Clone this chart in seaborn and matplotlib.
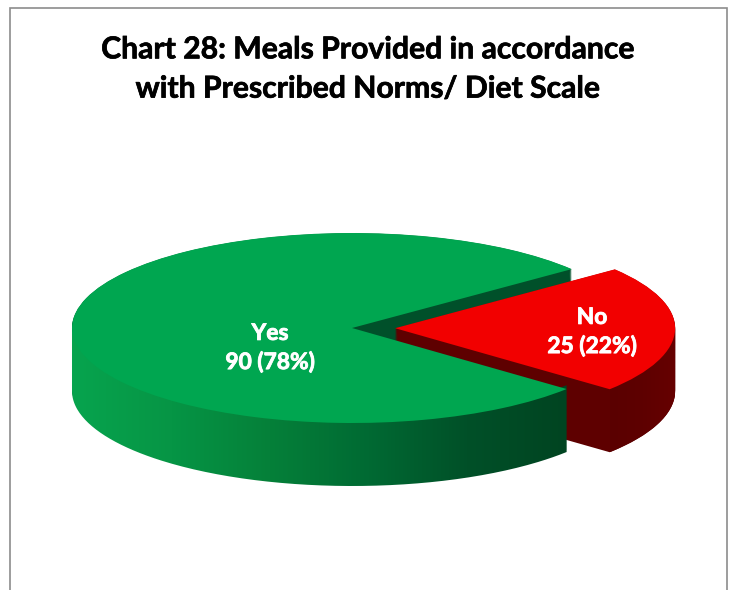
import numpy as np
import seaborn as sns
import matplotlib.pyplot as plt
import matplotlib.patheffects as pe
from matplotlib.path import Path
from matplotlib.patches import Rectangle

title = "Chart 28: Meals Provided in accordance\nwith Prescribed Norms/ Diet Scale"
categories = ["Yes", "No"]
counts = [90, 25]
shares = [78, 22]

top_colors = ["#00A650", "#F20000"]
wall_colors = ["#00502A", "#5E0000"]
green_side = ["#07A44E", "#069545", "#058039", "#006A33", "#005028", "#004421"]
red_side = ["#5A0000", "#5E0000", "#660000"]

sns.set_theme(style="white")
plt.rcParams["font.family"] = ["Lato", "DejaVu Sans"]

W, H = 730, 590
fig = plt.figure(figsize=(W / 100, H / 100), dpi=100, facecolor="white")
ax = fig.add_axes([0, 0, 1, 1])

# pie squashed into an ellipse later by the axis limits
cx, cy, rx, ry, depth_px = 352, 328, 280, 95, 63
depth = depth_px / ry
start = 38.3
explode = [0, 0.154]

# extruded body: flat layers, green first so the red wall sits over it
for d in np.arange(depth - 0.03, 0, -0.01):
    ax.pie(counts, startangle=start, explode=explode, center=(0, -d), colors=[wall_colors[0], "none"],
           wedgeprops=dict(linewidth=0))
for d in np.arange(depth, 0, -0.01):
    ax.pie(counts, startangle=start, explode=explode, center=(0, -d), colors=["none", wall_colors[1]],
           wedgeprops=dict(linewidth=0))

wedges, _ = ax.pie(counts, startangle=start, explode=explode, colors=top_colors,
                   wedgeprops=dict(linewidth=0))
wedges[0].set_zorder(6)
wedges[1].set_zorder(7)


def shade_side(wedge, colors, z):
    lo = max(wedge.theta1, 180)
    hi = min(wedge.theta2, 360)
    t = np.radians(np.linspace(lo, hi, 200))
    x = wedge.center[0] + wedge.r * np.cos(t)
    y = wedge.center[1] + wedge.r * np.sin(t)
    # upper edge runs under the top face so no dark layer shows at the seam
    verts = np.vstack([np.c_[x, y + 0.04], np.c_[x[::-1], y[::-1] - depth], [[x[0], y[0] + 0.04]]])
    cmap = sns.blend_palette(colors, as_cmap=True)
    grad = np.linspace(0, 1, 256).reshape(1, -1)
    im = ax.imshow(grad, cmap=cmap, aspect="auto", zorder=z,
                   extent=(x.min(), x.max(), y.min() - depth, y.max() + 0.04))
    im.set_clip_path(Path(verts), ax.transData)


shade_side(wedges[1], red_side, 4)
shade_side(wedges[0], green_side, 5)

ax.set_aspect("auto")
ax.set_xlim(-cx / rx, (W - cx) / rx)
ax.set_ylim((cy - H) / ry, cy / ry)
ax.axis("off")

fig.add_artist(Rectangle((10 / W, -0.1), 717 / W, 0.1 + (H - 8) / H, transform=fig.transFigure,
                         fill=False, edgecolor="#8C8C8C", linewidth=1.2))

fig.text(368 / W, 1 - 69 / H, title, ha="center", va="center", fontsize=21.7, fontweight="bold",
         color="black", linespacing=1.49,
         path_effects=[pe.withStroke(linewidth=0.5, foreground="black")])

label_pos = [(270, 348), (592, 332)]
for cat, n, s, (px, py) in zip(categories, counts, shares, label_pos):
    fig.text(px / W, 1 - py / H, f"{cat}\n{n} ({s}%)", ha="center", va="center", fontsize=16.4,
             fontweight="bold", color="white", linespacing=1.42,
             path_effects=[pe.withStroke(linewidth=0.6, foreground="white")])

fig.savefig("out.png", dpi=100)
